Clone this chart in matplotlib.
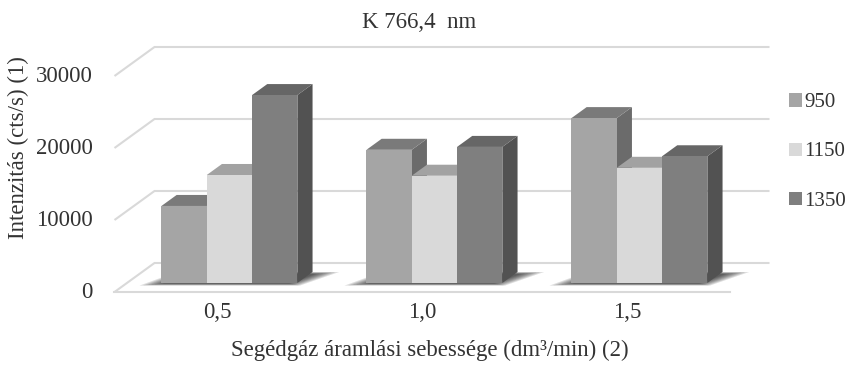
import numpy as np
import matplotlib.pyplot as plt
from matplotlib.patches import Polygon, Patch

plt.rcParams['font.family'] = ['Liberation Serif', 'DejaVu Serif']

categories = ['0,5', '1,0', '1,5']
series = ['950', '1150', '1350']
values = {
    '950': [10700, 18500, 22900],
    '1150': [15000, 14900, 16000],
    '1350': [26100, 18900, 17600],
}
yticks = [0, 10000, 20000, 30000]

front_cols = {'950': '#a5a5a5', '1150': '#d9d9d9', '1350': '#7f7f7f'}
top_cols = {'950': '#7a7a7a', '1150': '#a2a2a2', '1350': '#666666'}
side_cols = {'950': '#6b6b6b', '1150': '#9a9a9a', '1350': '#525252'}

# pixel layout of the oblique projection
W, H = 855, 369
X0, CAT = 217, 205          # px of first category (front plane), px per category
Y0, VPX = 292, 0.0072       # px of value 0 (front plane), px per value unit
DX = 40 / CAT               # depth offset in category units
DY = 29 / VPX               # depth offset in value units
BAR_W = 45.3 / CAT
D_FRONT, D_BACK = 0.31, 0.69
FS = 16.5
TXT = '#333333'

fig = plt.figure(figsize=(W / 100, H / 100), dpi=100)
ax = fig.add_axes([0, 0, 1, 1])
ax.set_xlim(-X0 / CAT, (W - X0) / CAT)
ax.set_ylim((Y0 - H) / VPX, Y0 / VPX)
ax.axis('off')


def proj(x, v, d):
    return (x + d * DX, v + d * DY)


grid_c = '#d9d9d9'
left, right = -0.5, len(categories) - 0.5
for t in yticks:
    p0 = proj(left, t, 0)
    p1 = proj(left, t, 1)
    p2 = proj(right, t, 1)
    ax.plot([p0[0], p1[0], p2[0]], [p0[1], p1[1], p2[1]], color=grid_c, lw=1.5,
            solid_capstyle='butt', zorder=1)
    ax.text(left - 0.105, t, str(t), ha='right', va='center', fontsize=FS, color=TXT)
f0, f1 = proj(left, 0, 0), proj(right, 0, 0)
ax.plot([f0[0], f1[0]], [f0[1], f1[1]], color=grid_c, lw=1.5, zorder=1)

# soft floor shadows under each group
n = len(series)
for i in range(len(categories)):
    gl = i - n * BAR_W / 2
    gr = i + n * BAR_W / 2
    for k in range(7):
        e = 0.011 * k
        pts = [proj(gl - 0.09 + e * 1.5, 0, D_FRONT - 0.09 + e),
               proj(gr + 0.03 - e, 0, D_FRONT - 0.09 + e),
               proj(gr + 0.13 - e * 1.5, 0, D_BACK - e),
               proj(gl + 0.0 + e, 0, D_BACK - e)]
        ax.add_patch(Polygon(pts, closed=True, facecolor='black', edgecolor='none',
                             alpha=0.13, zorder=2))

# 3D bars
for i in range(len(categories)):
    for j, s in enumerate(series):
        v = values[s][i]
        x0 = i - n * BAR_W / 2 + j * BAR_W
        x1 = x0 + BAR_W
        front = [proj(x0, 0, D_FRONT), proj(x1, 0, D_FRONT), proj(x1, v, D_FRONT), proj(x0, v, D_FRONT)]
        top = [proj(x0, v, D_FRONT), proj(x1, v, D_FRONT), proj(x1, v, D_BACK), proj(x0, v, D_BACK)]
        side = [proj(x1, 0, D_FRONT), proj(x1, 0, D_BACK), proj(x1, v, D_BACK), proj(x1, v, D_FRONT)]
        z = 3 + i * 10 + j
        ax.add_patch(Polygon(side, closed=True, facecolor=side_cols[s], edgecolor='none', zorder=z))
        ax.add_patch(Polygon(top, closed=True, facecolor=top_cols[s], edgecolor='none', zorder=z))
        ax.add_patch(Polygon(front, closed=True, facecolor=front_cols[s], edgecolor='none', zorder=z))

for i, c in enumerate(categories):
    ax.text(i, -20 / VPX, c, ha='center', va='center', fontsize=FS, color=TXT)

fig.text(430 / W, 1 - 350 / H, 'Segédgáz áramlási sebessége (dm³/min) (2)',
         ha='center', va='center', fontsize=FS, color=TXT)
fig.text(18 / W, 1 - 148 / H, 'Intenzitás (cts/s) (1)', rotation=90, ha='center', va='center',
         fontsize=FS, color=TXT)
fig.text(419 / W, 1 - 22 / H, 'K 766,4  nm', ha='center', va='center', fontsize=FS, color=TXT)

handles = [Patch(facecolor=front_cols[s], edgecolor='none') for s in series]
leg = fig.legend(handles, series, loc='center left', bbox_to_anchor=(789 / W, 1 - 152 / H),
                 frameon=False, fontsize=15, handlelength=0.6, handleheight=0.6,
                 handletextpad=0.15, labelspacing=1.45, borderpad=0, borderaxespad=0)
for t in leg.get_texts():
    t.set_color(TXT)

fig.savefig('out.png', dpi=100)
